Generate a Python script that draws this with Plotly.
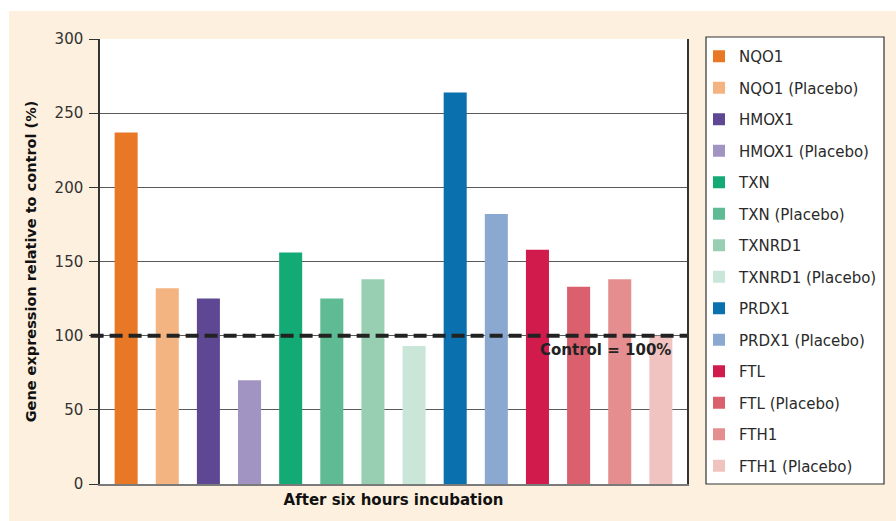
import plotly.graph_objects as go

# Gene expression after six hours of incubation (% of untreated control)
genes = [
    "NQO1", "NQO1 (Placebo)",
    "HMOX1", "HMOX1 (Placebo)",
    "TXN", "TXN (Placebo)",
    "TXNRD1", "TXNRD1 (Placebo)",
    "PRDX1", "PRDX1 (Placebo)",
    "FTL", "FTL (Placebo)",
    "FTH1", "FTH1 (Placebo)",
]
expression = [237, 132, 125, 70, 156, 125, 138, 93, 264, 182, 158, 133, 138, 100]
bar_colors = [
    "#E97826", "#F4B482",
    "#5E4893", "#A194C3",
    "#13AA76", "#5FBB93",
    "#98CFB3", "#C9E6D8",
    "#0B70AE", "#8BA9D0",
    "#D11B4D", "#DB606D",
    "#E58E8F", "#F0C3C0",
]
group_label = "After six hours incubation"
control_level = 100
y_ticks = [0, 50, 100, 150, 200, 250, 300]

FONT = "DejaVu Sans, Verdana, sans-serif"
TEXT = "#2a2a2a"

# plot-area geometry in pixels, used to place the panel and legend box
L, R, T, B = 100, 209, 39, 37
W, H = 896, 521
PW, PH = W - L - R, H - T - B


def px_x(px):
    return (px - L) / PW


def px_y(py):
    return (H - B - py) / PH


fig = go.Figure()
for i, (name, val, col) in enumerate(zip(genes, expression, bar_colors)):
    fig.add_trace(go.Bar(
        x=[group_label], y=[val], name=name,
        marker=dict(color=col, line=dict(width=0)),
        legendgroup=f"g{i}",
    ))

fig.update_layout(
    width=W, height=H,
    barmode="group", bargap=0.019, bargroupgap=0.44,
    paper_bgcolor="white", plot_bgcolor="white",
    margin=dict(l=L, r=R, t=T, b=B),
    font=dict(family=FONT, color=TEXT, size=15),
    showlegend=True,
    legend=dict(
        x=px_x(699), y=px_y(40), xanchor="left", yanchor="top",
        bgcolor="rgba(0,0,0,0)", borderwidth=0,
        font=dict(size=15, color=TEXT), tracegroupgap=9,
        itemwidth=30, maxheight=500,
    ),
    xaxis=dict(
        showticklabels=False, ticks="",
        showline=True, linecolor="#7a7a7a", linewidth=2,
        title=dict(text=f"<b>{group_label}</b>", font=dict(size=15, color="#111"), standoff=9),
    ),
    yaxis=dict(
        range=[0, 300], tickvals=y_ticks, ticks="outside", ticklen=9,
        tickcolor="#333", tickwidth=1, ticklabelstandoff=3,
        showgrid=True, gridcolor="#5a5a5a", gridwidth=1,
        showline=True, linecolor="#333", linewidth=1.5, mirror=True,
        zeroline=False,
        tickfont=dict(size=15, color="#333"),
        title=dict(text="<b>Gene expression relative to control (%)</b>",
                   font=dict(size=14.5, color="#111"), standoff=15),
    ),
    shapes=[
        # cream panel behind the whole chart
        dict(type="rect", xref="paper", yref="paper",
             x0=px_x(9), x1=px_x(W), y0=px_y(H), y1=px_y(11),
             fillcolor="#FDF0DE", line=dict(width=0), layer="below"),
        # white plotting area on top of the panel
        dict(type="rect", xref="paper", yref="paper", x0=0, x1=1, y0=0, y1=1,
             fillcolor="white", line=dict(width=0), layer="below"),
        # framed legend box
        dict(type="rect", xref="paper", yref="paper",
             x0=px_x(706), x1=px_x(884), y0=px_y(484), y1=px_y(37),
             fillcolor="white", line=dict(color="#333", width=1.2), layer="below"),
        # control reference line
        dict(type="line", xref="paper", yref="y",
             x0=-0.016, x1=1, y0=control_level, y1=control_level,
             line=dict(color="#222", width=4, dash="13px,6px"), layer="above"),
    ],
    annotations=[
        dict(text=f"<b>Control = {control_level}%</b>", xref="paper", yref="y",
             x=px_x(673), y=control_level, xanchor="right", yanchor="top",
             yshift=-3, showarrow=False, font=dict(size=15, color="#222")),
    ],
)

fig.write_html("out.html")
